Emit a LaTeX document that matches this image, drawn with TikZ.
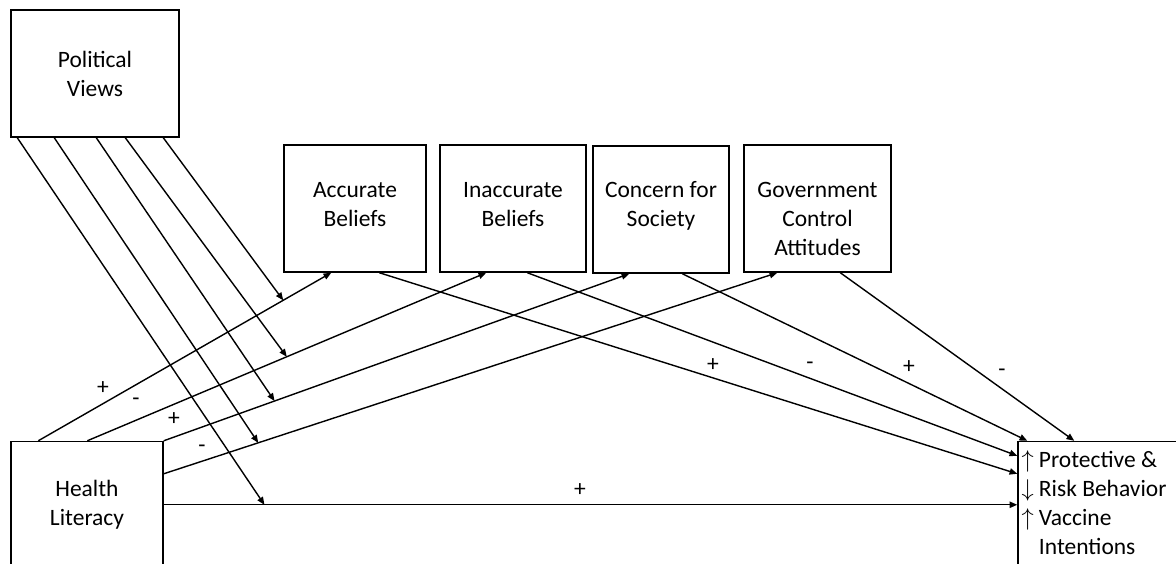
\documentclass[tikz,border=0pt]{standalone}
\usepackage{fontspec}
\setmainfont{Carlito}
\usetikzlibrary{arrows.meta,calc,positioning}

\tikzset{
  block/.style={draw,line width=1pt,minimum width=#1,minimum height=3.175cm,inner sep=0pt},
  lbl/.style={font=\fontsize{16.7}{20.6}\selectfont,align=center},
  sign/.style={font=\fontsize{16.7}{20.6}\selectfont,inner sep=1pt},
  link/.style={line width=1pt,-{Triangle[length=5.5pt,width=4.5pt]}}
}

\begin{document}
\begin{tikzpicture}[x=0.025cm,y=-0.025cm]
\useasboundingbox (0,0) rectangle (1176,564);

% \draw[step=50,gray,very thin] (0,0) grid (1176,564);
        \node[block=4.2cm,lbl] (pv) at (95,73.5) {Political\\Views};
        \node[block=3.8cm,lbl] (hl) at (87,505) {Health\\Literacy};
        \node[block=4.05cm] (out) at (1099,505) {};
        \node[lbl,align=left,anchor=west,inner xsep=2.8pt] (outT) at (out.west)
            {$\uparrow$ Protective \&\\$\downarrow$ Risk Behavior\\$\uparrow$ Vaccine\\\phantom{$\uparrow$} Intentions};

        \node[block=3.55cm]  (acc)   at (355,208.5) {};
        \node[block=3.65cm]  (inacc) at (513,208.5) {};
        \node[block=3.4cm]   (conc)  at (661,209.5) {};
        \node[block=3.675cm] (gov)   at (817.5,208.5) {};
        \node[lbl,anchor=north] (accT)   at ($(acc.north)+(0,33)$)   {Accurate\\Beliefs};
        \node[lbl,anchor=north] (inaccT) at ($(inacc.north)+(0,33)$) {Inaccurate\\Beliefs};
        \node[lbl,anchor=north] (concT)  at ($(conc.north)+(0,31)$)  {Concern for\\Society};
        \node[lbl,anchor=north] (govT)   at ($(gov.north)+(0,33)$)   {Government\\Control\\Attitudes};

        % health literacy to the mediators and the outcome
        \draw[link] ($(hl.north west)+(28,0)$) -- coordinate[pos=0.836] (j1) ($(acc.south west)+(48,0)$);
        \draw[link] ($(hl.north west)+(77,0)$) -- coordinate[pos=0.50] (j2) ($(inacc.south west)+(47,0)$);
        \draw[link] (hl.north east) -- coordinate[pos=0.238] (j3) ($(conc.south west)+(37,0)$);
        \draw[link] ($(hl.north east)+(0,33)$) -- coordinate[pos=0.154] (j4) ($(gov.south west)+(34,0)$);
        \draw[link] ($(hl.north east)+(0,64)$) -- coordinate[pos=0.118] (j5) ($(out.north west)+(0,64)$);

        % political views moderate each path
        \foreach \dx/\j in {153/j1,115/j2,86/j3,44/j4,7/j5}
            \draw[link] ($(pv.south west)+(\dx,0)$) -- (\j);

        % mediators to the outcome
        \draw[link] ($(acc.south west)+(96,0)$) -- ($(out.north west)+(0,33)$);
        \draw[link] ($(inacc.south west)+(88,0)$) -- ($(out.north west)+(0,15)$);
        \draw[link] ($(conc.south west)+(90,0)$) -- ($(out.north west)+(10,0)$);
        \draw[link] ($(gov.south west)+(97,0)$) -- ($(out.north west)+(57,0)$);

        \node[sign] (sAcc)   at (103,388) {+};
        \node[sign] (sInacc) at (136,402) {-};
        \node[sign] (sConc)  at (174,419) {+};
        \node[sign] (sGov)   at (202,449) {-};
        \node[sign] (sOut)   at (580,490) {+};
        \node[sign] (oAcc)   at (713,365) {+};
        \node[sign] (oInacc) at (810,366) {-};
        \node[sign] (oConc)  at (909,367) {+};
        \node[sign] (oGov)   at (1002,373) {-};

\end{tikzpicture}
\end{document}
